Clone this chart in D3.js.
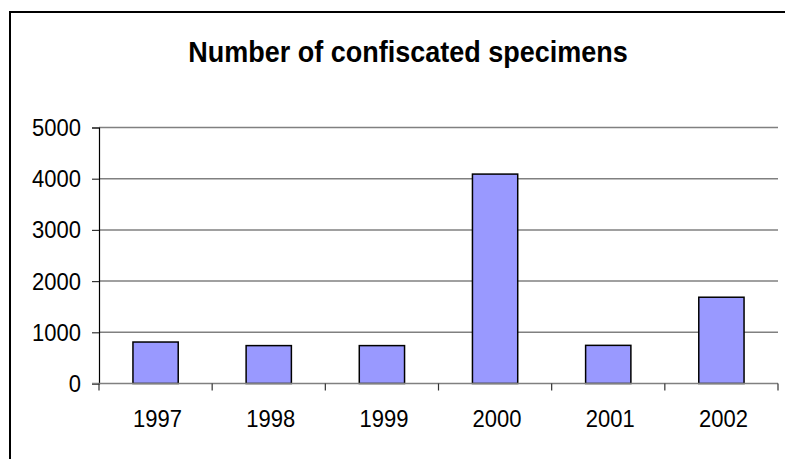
<!DOCTYPE html>
<html>
<head>
<meta charset="utf-8">
<script src="https://cdn.jsdelivr.net/npm/d3@7"></script>
<style>
  html, body { margin: 0; padding: 0; background: #fff; }
  svg { display: block; font-family: "Liberation Sans", Arial, sans-serif; }
</style>
</head>
<body>
<svg id="chart" width="785" height="459"></svg>
<script>
// Confiscated specimens per year
const years = ["1997", "1998", "1999", "2000", "2001", "2002"];
const specimens = [810, 740, 740, 4090, 745, 1685];
const yTicks = [0, 1000, 2000, 3000, 4000, 5000];
const chartTitle = "Number of confiscated specimens";

const svg = d3.select("#chart");
const W = 785, H = 459;
const plot = { left: 99, right: 778, top: 127.5, bottom: 383.5 };

// Outer frame (runs past the right and bottom edges)
svg.append("rect")
  .attr("x", 10).attr("y", 12)
  .attr("width", W + 20).attr("height", H + 20)
  .attr("fill", "#fff").attr("stroke", "#000").attr("stroke-width", 2);

// Title, slightly stretched vertically
svg.append("text")
  .attr("transform", "translate(408,61.8) scale(1,1.1)")
  .attr("text-anchor", "middle")
  .attr("font-size", 27).attr("font-weight", "bold")
  .attr("fill", "#000")
  .text(chartTitle);

const x = d3.scaleBand().domain(years).range([plot.left, plot.right]).paddingInner(0).paddingOuter(0);
const y = d3.scaleLinear().domain([0, 5000]).range([plot.bottom, plot.top]);

// Horizontal gridlines
svg.append("g")
  .selectAll("line")
  .data(yTicks.filter(d => d > 0))
  .join("line")
  .attr("x1", plot.left).attr("x2", plot.right)
  .attr("y1", d => y(d)).attr("y2", d => y(d))
  .attr("stroke", "#808080").attr("stroke-width", 1.5);

// Bars
const barW = x.bandwidth() * 0.4;
svg.append("g")
  .selectAll("rect")
  .data(years.map((yr, i) => ({ yr, v: specimens[i] })))
  .join("rect")
  .attr("x", d => x(d.yr) + (x.bandwidth() - barW) / 2)
  .attr("y", d => y(d.v))
  .attr("width", barW)
  .attr("height", d => y(0) - y(d.v))
  .attr("fill", "#9999FF")
  .attr("stroke", "#000").attr("stroke-width", 1.5);

// Y axis
const yAxis = d3.axisLeft(y).tickValues(yTicks).tickSize(7).tickPadding(11).tickFormat(d3.format("d"));
const gy = svg.append("g").attr("transform", `translate(${plot.left},0)`).call(yAxis);
gy.select(".domain").attr("stroke", "#000").attr("stroke-width", 1.2);
gy.selectAll(".tick line").attr("stroke", "#333").attr("stroke-width", 1.2);
gy.selectAll(".tick text")
  .attr("font-size", 22).attr("fill", "#000")
  .attr("font-family", "Liberation Sans, Arial, sans-serif")
  .attr("dy", null)
  .attr("y", 0)
  .attr("transform", "translate(0,7.9) scale(1,1.06)");

// X axis with ticks at category boundaries
const gx = svg.append("g").attr("transform", `translate(0,${plot.bottom})`);
gx.append("line")
  .attr("x1", plot.left - 7).attr("x2", plot.right)
  .attr("y1", 0).attr("y2", 0)
  .attr("stroke", "#808080").attr("stroke-width", 1.5);
const bounds = years.map(d => x(d)).concat([plot.right]);
gx.selectAll("line.tk")
  .data(bounds)
  .join("line").attr("class", "tk")
  .attr("x1", d => d).attr("x2", d => d)
  .attr("y1", 0).attr("y2", 7)
  .attr("stroke", "#333").attr("stroke-width", 1.2);
gx.selectAll("text")
  .data(years)
  .join("text")
  .attr("transform", d => `translate(${x(d) + x.bandwidth() / 2 + 2},43.5) scale(1,1.06)`)
  .attr("text-anchor", "middle")
  .attr("font-size", 22).attr("fill", "#000")
  .text(d => d);
</script>
</body>
</html>
